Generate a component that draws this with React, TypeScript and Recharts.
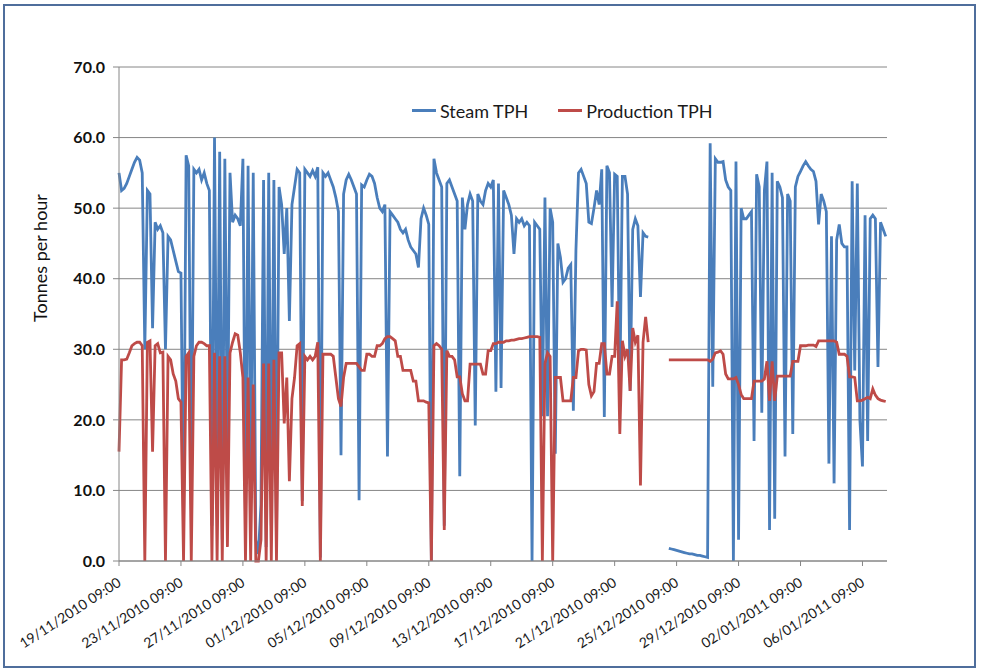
import { LineChart, Line, XAxis, YAxis, CartesianGrid, Legend } from "recharts";

// readings every 4 hours from 19/11/2010 09:00
const SAMPLE_HOURS = 4;

const steamTph: (number | null)[] = [
  55, 52.5, 52.8, 53.5, 54.5, 55.5, 56.5, 57.2, 56.8, 55,
  30, 52.5, 52, 33, 48, 47, 47.5, 46.5, 30, 46,
  45.5, 44, 42.5, 41, 40.8, 5, 57.5, 56, 8, 55.5,
  55, 55.5, 54, 55, 53.5, 52.5, 5, 60, 10, 58,
  3, 57, 15, 55, 48, 49, 48.5, 47.5, 57, 5,
  56, 10, 55, 3, 1, 8, 54, 2, 55, 5,
  54, 3, 53, 50.5, 43.5, 50, 34, 50.5, 53, 55.5,
  55, 8.5, 55.5, 55, 54.5, 55.3, 54.5, 55.8, 0.5, 55,
  54.5, 55, 54, 53, 51.5, 49.5, 15, 52, 54, 54.8,
  54, 53, 52, 8.6, 53.3, 53, 54, 54.8, 54.5, 53.5,
  51.5, 50, 49.5, 50.5, 14.8, 49.5, 49, 48.5, 48, 47,
  46.5, 47, 45.5, 44.5, 44, 43.5, 41.6, 48.5, 50, 49,
  47.7, 0, 57, 55, 54, 53, 5, 53.5, 54, 53,
  52, 51, 12, 51.5, 47, 50.5, 52, 51, 19.2, 52,
  51, 50.5, 52.5, 53.5, 53, 54, 24, 53.5, 24.5, 52.5,
  51.5, 50.5, 49, 43.5, 48.5, 48, 48.5, 47.5, 48, 47.5,
  0, 48, 47.5, 47, 20.5, 51.5, 20.5, 50, 48, 15.2,
  45, 43, 39.5, 40, 41.5, 42, 21.3, 44, 55, 55.5,
  54.5, 53.5, 48, 47.8, 50, 52.5, 50.5, 55.5, 20.4, 56,
  55, 36, 54.8, 54.5, 24, 54.5, 54.5, 52, 24.1, 47,
  48.5, 47.5, 37.4, 46.5, 46, 45.9, null, null, null, null,
  null, null, null, 1.8, 1.7, 1.6, 1.5, 1.4, 1.3, 1.2,
  1.1, 1.0, 1.0, 0.9, 0.8, 0.8, 0.7, 0.6, 0.5, 59.2,
  24.7, 57, 56.5, 56.5, 56.6, 54, 53, 52.5, 0, 56.6,
  3, 50, 48.5, 48.5, 49, 49.5, 17, 54.8, 53, 21,
  52.5, 56.6, 4.4, 55, 6, 53.8, 53, 51.5, 14.8, 52,
  51, 18, 53, 54.5, 55.2, 56, 56.6, 56, 55.5, 55.2,
  53.8, 47.7, 52, 51, 49.5, 13.8, 46, 11, 45.5, 47.7,
  45, 44.5, 44.5, 4.4, 53.8, 27, 53.5, 20, 13.4, 49,
  17, 48.5, 49, 48.5, 27.5, 48, 47, 46,
];

const productionTph: (number | null)[] = [
  15.5, 28.5, 28.5, 28.6, 29.5, 30.5, 30.8, 31, 31, 30.5,
  0, 31, 31.2, 15.5, 30.5, 30.8, 29.5, 29.6, 0, 29,
  28.5, 26.5, 25.5, 23, 22.5, 0, 29, 29.5, 0, 29,
  30.5, 31, 31, 30.8, 30.5, 30.5, 0, 29.5, 0, 29,
  0, 29, 2, 29.5, 31, 32.2, 32, 29.5, 26, 0,
  26, 0, 25, 0, 0, 3, 28, 0, 28, 0,
  28.5, 0, 29.5, 29.5, 19.5, 26, 11.3, 23, 26, 30.5,
  30.8, 7.8, 29, 28.5, 29, 28.5, 29, 31, 0, 29.3,
  29.3, 29.3, 29.3, 29, 26, 23, 21.9, 26, 28, 28,
  28, 28, 28, 27.5, 27, 27, 29.3, 29.3, 29, 29,
  30.5, 30.5, 30.8, 31.5, 31.8, 31.8, 31.5, 31.2, 29, 29,
  27, 27, 27, 27, 25.5, 25.5, 22.7, 22.7, 22.7, 22.5,
  22.4, 0, 30.5, 30.8, 30.5, 30, 4.4, 29.8, 29, 29,
  28.5, 26.1, 26.1, 23.7, 22.7, 22.7, 27.9, 27.9, 27.9, 27.9,
  27.9, 26.5, 26.5, 29.8, 29.8, 30.8, 30.8, 31, 31, 31,
  31.2, 31.2, 31.3, 31.3, 31.4, 31.5, 31.5, 31.6, 31.7, 31.8,
  31.8, 31.8, 31.8, 31.7, 0, 28, 29.5, 29, 0, 26,
  26, 26, 22.7, 22.7, 22.7, 22.7, 26, 26, 29.8, 30,
  30, 29.9, 25, 23.4, 24, 28, 28, 30.8, 30.8, 26.5,
  26.5, 29, 29, 36.8, 18, 31.2, 29, 30, 24.1, 33,
  31, 32, 10.7, 31, 34.6, 31, null, null, null, null,
  null, null, null, 28.5, 28.5, 28.5, 28.5, 28.5, 28.5, 28.5,
  28.5, 28.5, 28.5, 28.5, 28.5, 28.5, 28.5, 28.5, 28.5, 28.3,
  28.6, 29.5, 29.6, 29.8, 29.3, 26.5, 25.8, 25.8, 25.8, 26,
  25, 23.6, 23, 23, 23, 23, 25.5, 25.5, 25.5, 25.5,
  25.8, 28.3, 22.7, 28.3, 22.7, 26.2, 26.2, 26.2, 26.2, 26.2,
  26.2, 28.3, 28.3, 28.3, 30.5, 30.5, 30.5, 30.6, 30.6, 30.6,
  30.4, 31.2, 31.2, 31.2, 31.2, 31.2, 31.2, 31.2, 31, 29.3,
  29.3, 29.3, 29, 26.1, 26.1, 26, 22.7, 22.7, 22.8, 23,
  23.2, 23, 24.4, 23.5, 23, 22.8, 22.7, 22.6,
];

const dateLabels = [
  "19/11/2010 09:00", "23/11/2010 09:00", "27/11/2010 09:00", "01/12/2010 09:00",
  "05/12/2010 09:00", "09/12/2010 09:00", "13/12/2010 09:00", "17/12/2010 09:00",
  "21/12/2010 09:00", "25/12/2010 09:00", "29/12/2010 09:00", "02/01/2011 09:00",
  "06/01/2011 09:00",
];
const LABEL_STEP_HOURS = 96;

const yTicks = [0, 10, 20, 30, 40, 50, 60, 70];

const data = steamTph.map((s, i) => ({
  t: i * SAMPLE_HOURS,
  steam: s,
  production: productionTph[i],
}));

const xTicks = dateLabels.map((_, k) => k * LABEL_STEP_HOURS);

const FONT = "Lato, 'Open Sans', sans-serif";
const AXIS_GREY = "#868686";

function DateTick({ x, y, payload }: any) {
  const label = dateLabels[Math.round(payload.value / LABEL_STEP_HOURS)];
  return (
    <g transform={`translate(${x + 3},${y + 17})`}>
      <text transform="rotate(-33)" textAnchor="end" fontSize={14} fill="#1a1a1a" fontFamily={FONT}>
        {label}
      </text>
    </g>
  );
}

function ChartLegend() {
  const item = (color: string, text: string, gap: number) => (
    <span style={{ display: "inline-flex", alignItems: "center", marginRight: gap }}>
      <span style={{ display: "inline-block", width: 24, height: 3, background: color, marginRight: 4 }} />
      <span>{text}</span>
    </span>
  );
  return (
    <div style={{ fontFamily: FONT, fontSize: 18, lineHeight: "22px", color: "#1a1a1a", whiteSpace: "nowrap" }}>
      {item("#4a7ebb", "Steam TPH", 30)}
      {item("#be4b48", "Production TPH", 0)}
    </div>
  );
}

export default function App() {
  return (
    <div style={{ position: "absolute", left: 0, top: 0, width: 991, height: 672, background: "#fff" }}>
      <div
        style={{
          position: "absolute", left: 3, top: 4, width: 973, height: 664,
          border: "2px solid #4f6e9c", boxSizing: "border-box",
        }}
      />
      <LineChart
        width={991}
        height={672}
        data={data}
        margin={{ top: 67, right: 104, bottom: 49, left: 59 }}
        style={{ position: "absolute", left: 0, top: 0 }}
      >
        <CartesianGrid vertical={false} stroke={AXIS_GREY} strokeWidth={1} />
        <XAxis
          dataKey="t"
          type="number"
          domain={[0, 1190]}
          ticks={xTicks}
          interval={0}
          height={62}
          stroke={AXIS_GREY}
          tickSize={5}
          tick={<DateTick />}
        />
        <YAxis
          domain={[0, 70]}
          ticks={yTicks}
          width={60}
          stroke={AXIS_GREY}
          tickSize={6}
          tickMargin={8}
          tickFormatter={(v) => v.toFixed(1)}
          tick={{ fill: "#111", fontSize: 16, fontWeight: 700, fontFamily: FONT }}
          label={() => (
            <text
              x={47}
              y={258}
              transform="rotate(-90 47 258)"
              textAnchor="middle"
              fontSize={18}
              fill="#111"
              fontFamily={FONT}
            >
              Tonnes per hour
            </text>
          )}
        />
        <Legend
          content={<ChartLegend />}
          wrapperStyle={{ position: "absolute", left: 412, top: 94, width: 360, height: 0, overflow: "visible" }}
        />
        <Line
          type="linear"
          dataKey="steam"
          name="Steam TPH"
          stroke="#4a7ebb"
          strokeWidth={2.8}
          dot={false}
          isAnimationActive={false}
        />
        <Line
          type="linear"
          dataKey="production"
          name="Production TPH"
          stroke="#be4b48"
          strokeWidth={2.8}
          dot={false}
          isAnimationActive={false}
        />
      </LineChart>
    </div>
  );
}
